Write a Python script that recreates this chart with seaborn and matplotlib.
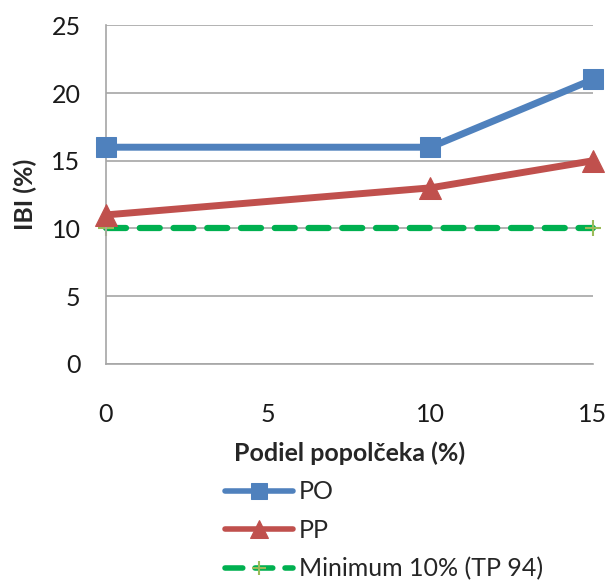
import matplotlib
matplotlib.use("Agg")
import matplotlib.pyplot as plt
import seaborn as sns
import pandas as pd

# data
podiel = [0, 10, 15]
po = [16, 16, 21]
pp = [11, 13, 15]
min_x = [0, 15]
minimum = [10, 10]

sns.set_style("white")
plt.rcParams['font.family'] = ['Lato', 'DejaVu Sans']

fig = plt.figure(figsize=(6.10, 5.88), dpi=100)
ax = fig.add_axes([0.173, 0.381, 0.799, 0.576])

df = pd.DataFrame({'x': podiel, 'PO': po, 'PP': pp})
df_min = pd.DataFrame({'x': min_x, 'min': minimum})

sns.lineplot(data=df, x='x', y='PO', ax=ax, color='#4F81BD', linewidth=5,
             marker='s', markersize=15, markeredgecolor='#4F81BD', label='PO', zorder=4)
sns.lineplot(data=df, x='x', y='PP', ax=ax, color='#C0504D', linewidth=5,
             marker='^', markersize=16, markeredgecolor='#C0504D', label='PP', zorder=3)
sns.lineplot(data=df_min, x='x', y='min', ax=ax, color='#00B050', linewidth=4.5,
             linestyle=(0, (3.2, 2.2)), dash_capstyle='round', marker='+', markersize=12,
             markeredgecolor='#9BBB59', markeredgewidth=1.5, label='Minimum 10% (TP 94)', zorder=2)

ax.set_xlim(0, 15)
ax.set_ylim(0, 25)
ax.set_xticks([0, 5, 10, 15])
ax.set_yticks([0, 5, 10, 15, 20, 25])
ax.yaxis.grid(True, color='#A6A6A6', linewidth=1.2)
ax.xaxis.grid(False)
for s in ['top', 'right']:
    ax.spines[s].set_visible(False)
for s in ['left', 'bottom']:
    ax.spines[s].set_color('#A6A6A6')
    ax.spines[s].set_linewidth(1.2)
ax.tick_params(axis='both', labelsize=18, length=0, colors='#1a1a1a')
ax.tick_params(axis='x', pad=28)
ax.tick_params(axis='y', pad=18)
for m in ax.lines:
    m.set_clip_on(False)

ax.set_xlabel('Podiel popolčeka (%)', fontsize=18, fontweight='bold', labelpad=11)
ax.set_ylabel('IBI (%)', fontsize=18, fontweight='bold', labelpad=10)

leg = ax.legend(loc='upper left', bbox_to_anchor=(0.369, 0.183), bbox_transform=fig.transFigure,
                frameon=False, fontsize=18, handlelength=2.7, handletextpad=0.25,
                labelspacing=0.62, borderpad=0, borderaxespad=0, markerscale=0.8)
for h in leg.get_lines():
    h.set_linewidth(4)

fig.savefig('out.png', dpi=100)
